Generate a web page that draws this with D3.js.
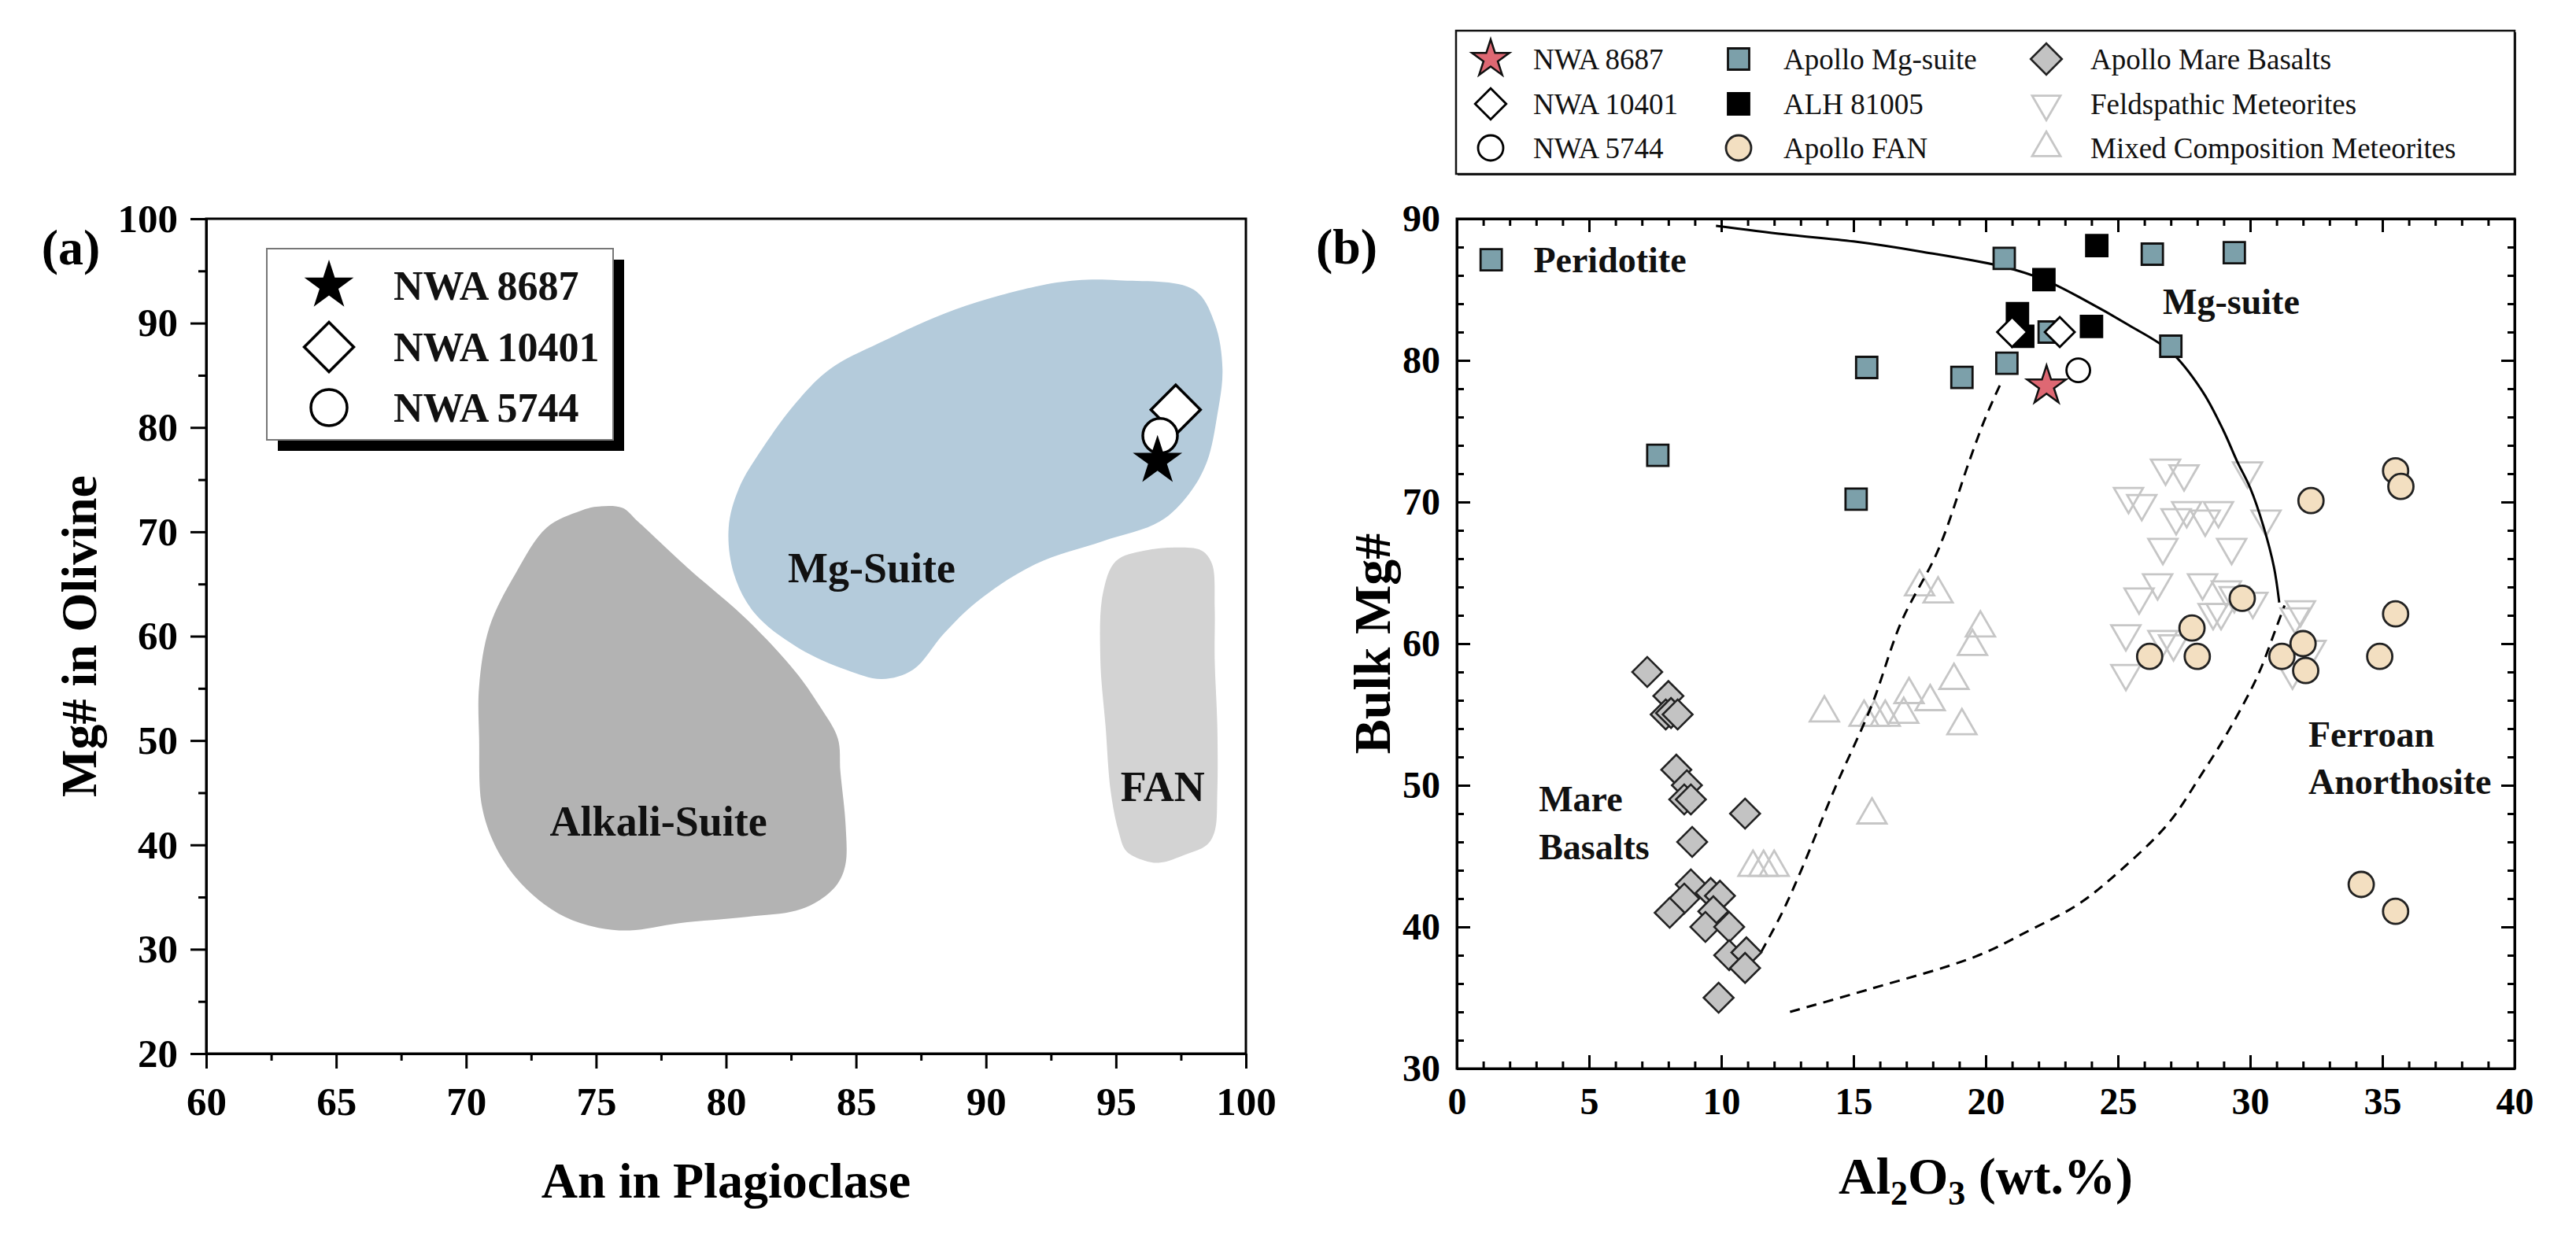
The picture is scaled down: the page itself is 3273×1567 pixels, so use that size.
<!DOCTYPE html>
<html><head><meta charset="utf-8">
<script src="https://cdn.jsdelivr.net/npm/d3@7"></script>
<style>
html,body{margin:0;padding:0;background:#fff;}
svg{display:block;font-family:"Liberation Serif","Times New Roman",serif;}
</style></head><body>
<svg id="c" width="3273" height="1567"></svg>
<script>
// ---------------- Panel (a) data ----------------
const xTicksA = [60,65,70,75,80,85,90,95,100];
const xMinorA = [62.5,67.5,72.5,77.5,82.5,87.5,92.5,97.5];
const yTicksA = [20,30,40,50,60,70,80,90,100];
const yMinorA = [25,35,45,55,65,75,85,95];

const regionMgSuite = [[95.1,94.1],[98.0,93.2],[98.8,90.0],[99.1,85.6],[98.9,81.2],[98.5,76.7],[97.8,73.6],[96.7,71.0],[94.5,69.1],[91.9,66.9],[89.7,63.4],[88.4,60.3],[87.2,56.8],[86.0,55.9],[84.6,56.8],[82.7,59.0],[81.1,62.2],[80.3,66.0],[80.1,70.4],[80.5,74.2],[81.4,78.0],[82.7,82.4],[84.0,85.6],[85.9,88.1],[88.8,91.3],[91.9,93.5],[93.5,94.1]];
const regionAlkali = [[74.4,72.0],[75.0,72.4],[76.0,72.3],[76.6,71.0],[78.5,66.6],[80.8,61.6],[82.7,56.5],[83.6,53.3],[84.3,50.2],[84.4,47.0],[84.6,41.9],[84.6,38.2],[84.3,36.3],[83.6,34.7],[82.7,33.7],[80.8,33.1],[78.2,32.5],[76.3,31.8],[75.0,32.1],[73.8,33.1],[72.8,34.7],[71.9,36.9],[71.1,40.0],[70.6,43.8],[70.5,50.2],[70.5,55.2],[70.9,60.9],[71.9,66.0],[73.1,70.4]];
const regionFAN = [[95.0,67.2],[96.1,68.2],[97.4,68.5],[98.3,68.2],[98.7,66.9],[98.8,62.8],[98.8,57.8],[98.9,51.4],[98.9,45.1],[98.8,41.3],[98.5,40.0],[97.7,39.1],[96.7,38.3],[96.1,38.5],[95.4,39.4],[95.1,41.3],[94.8,45.1],[94.6,51.4],[94.4,57.8],[94.5,64.1]];
const regionLabelsA = [["Mg-Suite",85.6,66.6],["Alkali-Suite",77.4,42.3],["FAN",96.8,45.6]];

const aNWA8687 = [[96.6,76.8]];
const aNWA10401 = [[97.3,81.7]];
const aNWA5744 = [[96.7,79.2]];
const legendA = ["NWA 8687","NWA 10401","NWA 5744"];

// ---------------- Panel (b) data ----------------
const xTicksB = [0,5,10,15,20,25,30,35,40];
const xMinorB = d3.range(1,40).filter(v => v % 5 !== 0);
const yTicksB = [30,40,50,60,70,80,90];
const yMinorB = d3.range(32,90,2).filter(v => v % 10 !== 0);

const bMgSuite = [[1.3,87.1],[7.6,73.3],[15.1,70.2],[15.5,79.5],[19.1,78.8],[20.8,79.8],[20.7,87.2],[22.4,82.0],[26.3,87.5],[29.4,87.6],[27.0,81.0]];
const bALH = [[24.2,88.1],[22.2,85.7],[21.2,83.3],[21.4,81.7],[24.0,82.4]];
const bNWA10401 = [[21.0,82.0],[22.8,82.0]];
const bNWA5744 = [[23.5,79.3]];
const bNWA8687 = [[22.3,78.2]];
const bFAN = [[35.5,72.2],[35.7,71.1],[32.3,70.1],[29.7,63.2],[27.8,61.1],[26.2,59.1],[28.0,59.1],[31.2,59.1],[32.0,60.0],[32.1,58.1],[35.5,62.1],[34.9,59.1],[34.2,43.0],[35.5,41.1]];
const bMare = [[7.2,58.0],[8.0,56.3],[7.9,55.0],[8.1,55.1],[8.35,55.0],[8.3,51.1],[8.7,50.0],[8.6,49.0],[8.85,49.0],[10.9,48.0],[8.9,46.0],[8.85,43.0],[8.6,42.0],[8.05,41.0],[9.6,42.4],[9.95,42.2],[9.7,41.1],[9.4,40.0],[10.3,40.0],[10.3,38.0],[10.95,38.2],[10.9,37.1],[9.9,35.0]];
const bMixed = [[17.5,64.0],[18.2,63.5],[19.8,61.1],[19.5,59.8],[18.8,57.4],[17.1,56.4],[17.9,55.9],[13.9,55.1],[15.4,54.8],[15.8,54.8],[16.2,54.8],[16.9,55.0],[19.1,54.2],[15.7,47.9],[11.2,44.2],[11.6,44.2],[12.0,44.2]];
const bFeld = [[26.8,72.4],[27.5,72.0],[29.9,72.2],[25.4,70.4],[25.9,69.9],[27.6,69.4],[27.2,68.9],[28.8,69.4],[28.3,68.8],[30.6,68.8],[26.7,66.8],[29.3,66.8],[26.5,64.3],[28.2,64.3],[25.8,63.3],[29.1,63.8],[29.4,63.4],[30.1,63.0],[28.6,62.2],[28.9,62.2],[31.9,62.4],[31.7,61.9],[25.3,60.7],[26.7,60.3],[27.1,60.0],[25.3,57.9],[32.3,59.6],[31.6,58.0]];

const curveSolid = [[9.8,89.5],[12.4,88.9],[15.0,88.4],[17.5,87.7],[20.7,86.6],[22.2,85.7],[23.7,84.3],[25.4,82.5],[27.0,80.6],[28.2,77.8],[29.0,75.0],[29.5,72.9],[30.0,71.0],[30.5,68.3],[30.9,65.4],[31.1,62.9]];
const curveDashLeft = [[11.5,38.2],[12.3,41.0],[13.0,43.9],[14.3,49.8],[15.7,55.7],[16.8,61.5],[18.2,66.6],[19.4,73.0],[20.0,76.0],[20.6,78.5]];
const curveDashRight = [[12.6,34.0],[15.6,35.6],[19.6,37.9],[21.7,39.8],[23.5,41.6],[25.1,44.0],[26.9,47.3],[28.1,50.6],[29.2,53.9],[30.3,57.8],[31.0,61.2],[31.3,62.7]];

const labelsB = [["Peridotite",2.9,87.1],["Mg-suite",26.7,84.2],["Mare",3.1,49.05],["Basalts",3.1,45.65],["Ferroan",32.2,53.6],["Anorthosite",32.2,50.3]];
const legendB = [
  ["NWA 8687","star"],["NWA 10401","wdiamond"],["NWA 5744","wcircle"],
  ["Apollo Mg-suite","mgsq"],["ALH 81005","blksq"],["Apollo FAN","fan"],
  ["Apollo Mare Basalts","mare"],["Feldspathic Meteorites","feld"],["Mixed Composition Meteorites","mixed"]
];

// ---------------- drawing ----------------
const svg = d3.select("#c");
svg.append("rect").attr("width",3273).attr("height",1567).attr("fill","#fff");

function sym(type,size){ return d3.symbol().type(type).size(size)(); }
function styleAxis(g, fs){
  g.select(".domain").attr("stroke","#000").attr("stroke-width",3);
  g.selectAll(".tick line").attr("stroke","#000").attr("stroke-width",3);
  g.selectAll(".tick text").attr("fill","#000").attr("font-size",fs).attr("font-weight","bold")
    .attr("font-family",'"Liberation Serif","Times New Roman",serif');
}

// ===== Panel A =====
const xA = d3.scaleLinear().domain([60,100]).range([262,1583]);
const yA = d3.scaleLinear().domain([20,100]).range([1339,278]);
const gA = svg.append("g");
const blob = d3.line().x(d=>xA(d[0])).y(d=>yA(d[1])).curve(d3.curveCatmullRomClosed.alpha(0.5));
gA.append("path").attr("d",blob(regionMgSuite)).attr("fill","#b4cbdb");
gA.append("path").attr("d",blob(regionAlkali)).attr("fill","#b3b3b3");
gA.append("path").attr("d",blob(regionFAN)).attr("fill","#d3d3d3");
gA.selectAll("text.rl").data(regionLabelsA).join("text").attr("class","rl")
  .attr("x",d=>xA(d[1])).attr("y",d=>yA(d[2])).attr("dy","0.35em")
  .attr("text-anchor","middle").attr("font-size",54).attr("font-weight","bold").attr("fill","#111").text(d=>d[0]);

// frame
gA.append("rect").attr("x",xA(60)).attr("y",yA(100)).attr("width",xA(100)-xA(60)).attr("height",yA(20)-yA(100))
  .attr("fill","none").attr("stroke","#000").attr("stroke-width",3);
// axes
let ax = gA.append("g").attr("transform",`translate(0,${yA(20)})`)
  .call(d3.axisBottom(xA).tickValues(xTicksA).tickSize(19).tickSizeOuter(0).tickPadding(23).tickFormat(d3.format("d")));
styleAxis(ax,51);
ax = gA.append("g").attr("transform",`translate(0,${yA(20)})`)
  .call(d3.axisBottom(xA).tickValues(xMinorA).tickSize(9).tickSizeOuter(0).tickFormat(""));
styleAxis(ax,51);
ax = gA.append("g").attr("transform",`translate(${xA(60)},0)`)
  .call(d3.axisLeft(yA).tickValues(yTicksA).tickSize(20).tickSizeOuter(0).tickPadding(16).tickFormat(d3.format("d")));
styleAxis(ax,51);
ax = gA.append("g").attr("transform",`translate(${xA(60)},0)`)
  .call(d3.axisLeft(yA).tickValues(yMinorA).tickSize(10).tickSizeOuter(0).tickFormat(""));
styleAxis(ax,51);

// markers A
const starA = sym(d3.symbolStar, 1222), diaA = sym(d3.symbolSquare, 1980);
gA.selectAll("path.d10401").data(aNWA10401).join("path").attr("class","d10401").attr("d",diaA)
  .attr("transform",d=>`translate(${xA(d[0])},${yA(d[1])}) rotate(45)`).attr("fill","#fff").attr("stroke","#000").attr("stroke-width",3.5);
gA.selectAll("circle.c5744").data(aNWA5744).join("circle").attr("class","c5744")
  .attr("cx",d=>xA(d[0])).attr("cy",d=>yA(d[1])).attr("r",22).attr("fill","#fff").attr("stroke","#000").attr("stroke-width",3.5);
gA.selectAll("path.s8687").data(aNWA8687).join("path").attr("class","s8687").attr("d",starA)
  .attr("transform",d=>`translate(${xA(d[0])},${yA(d[1])})`).attr("fill","#000");

// legend A
const lgA = gA.append("g");
lgA.append("rect").attr("x",353).attr("y",330).attr("width",440).attr("height",243).attr("fill","#000");
lgA.append("rect").attr("x",339).attr("y",316).attr("width",440).attr("height",243).attr("fill","#fff").attr("stroke","#777").attr("stroke-width",2);
const lgRowsA = [363,441,518];
lgA.append("path").attr("d",starA).attr("transform",`translate(418,${lgRowsA[0]})`).attr("fill","#000");
lgA.append("path").attr("d",diaA).attr("transform",`translate(418,${lgRowsA[1]}) rotate(45)`).attr("fill","#fff").attr("stroke","#000").attr("stroke-width",3.5);
lgA.append("circle").attr("cx",418).attr("cy",lgRowsA[2]).attr("r",23).attr("fill","#fff").attr("stroke","#000").attr("stroke-width",3.5);
lgA.selectAll("text").data(legendA).join("text").attr("x",500).attr("y",(d,i)=>lgRowsA[i]).attr("dy","0.35em")
  .attr("font-size",52).attr("font-weight","bold").attr("fill","#111").text(d=>d);

// titles A
svg.append("text").attr("x",(xA(60)+xA(100))/2).attr("y",1500).attr("dy","0.35em").attr("text-anchor","middle")
  .attr("font-size",64).attr("font-weight","bold").text("An in Plagioclase");
svg.append("text").attr("transform",`translate(100,${(yA(20)+yA(100))/2}) rotate(-90)`).attr("dy","0.35em").attr("text-anchor","middle")
  .attr("font-size",64).attr("font-weight","bold").text("Mg# in Olivine");
svg.append("text").attr("x",90).attr("y",314).attr("dy","0.35em").attr("text-anchor","middle")
  .attr("font-size",64).attr("font-weight","bold").text("(a)");

// ===== Panel B =====
const xB = d3.scaleLinear().domain([0,40]).range([1851,3195]);
const yB = d3.scaleLinear().domain([30,90]).range([1358,278]);
const gB = svg.append("g");

// triangles
const triB = sym(d3.symbolTriangle, 593);
gB.selectAll("path.mixed").data(bMixed).join("path").attr("class","mixed").attr("d",triB)
  .attr("transform",d=>`translate(${xB(d[0])},${yB(d[1])})`).attr("fill","none").attr("stroke","#c6c6c6").attr("stroke-width",2.8);
gB.selectAll("path.feld").data(bFeld).join("path").attr("class","feld").attr("d",triB)
  .attr("transform",d=>`translate(${xB(d[0])},${yB(d[1])}) rotate(180)`).attr("fill","none").attr("stroke","#c6c6c6").attr("stroke-width",2.8);

// curves
const ln = d3.line().x(d=>xB(d[0])).y(d=>yB(d[1])).curve(d3.curveCatmullRom.alpha(0.5));
gB.append("path").attr("d",ln(curveSolid)).attr("fill","none").attr("stroke","#000").attr("stroke-width",3);
gB.append("path").attr("d",ln(curveDashLeft)).attr("fill","none").attr("stroke","#000").attr("stroke-width",3).attr("stroke-dasharray","13,9");
gB.append("path").attr("d",ln(curveDashRight)).attr("fill","none").attr("stroke","#000").attr("stroke-width",3).attr("stroke-dasharray","13,9");

// FAN circles
gB.selectAll("circle.fan").data(bFAN).join("circle").attr("class","fan")
  .attr("cx",d=>xB(d[0])).attr("cy",d=>yB(d[1])).attr("r",16).attr("fill","#f3dfc1").attr("stroke","#222").attr("stroke-width",2.8);
// Mare diamonds
const diaB = sym(d3.symbolSquare, 722);
gB.selectAll("path.mare").data(bMare).join("path").attr("class","mare").attr("d",diaB)
  .attr("transform",d=>`translate(${xB(d[0])},${yB(d[1])}) rotate(45)`).attr("fill","#c3c3c3").attr("stroke","#222").attr("stroke-width",2.6);
// Mg-suite squares
const sqB = sym(d3.symbolSquare, 729);
gB.selectAll("path.mg").data(bMgSuite).join("path").attr("class","mg").attr("d",sqB)
  .attr("transform",d=>`translate(${xB(d[0])},${yB(d[1])})`).attr("fill","#7ca0aa").attr("stroke","#111").attr("stroke-width",2.8);
gB.selectAll("path.alh").data(bALH).join("path").attr("class","alh").attr("d",sqB)
  .attr("transform",d=>`translate(${xB(d[0])},${yB(d[1])})`).attr("fill","#000").attr("stroke","#000").attr("stroke-width",2.8);
// NWA samples
gB.selectAll("path.n10401").data(bNWA10401).join("path").attr("class","n10401").attr("d",diaB)
  .attr("transform",d=>`translate(${xB(d[0])},${yB(d[1])}) rotate(45)`).attr("fill","#fff").attr("stroke","#000").attr("stroke-width",2.8);
gB.selectAll("circle.n5744").data(bNWA5744).join("circle").attr("class","n5744")
  .attr("cx",d=>xB(d[0])).attr("cy",d=>yB(d[1])).attr("r",15).attr("fill","#fff").attr("stroke","#000").attr("stroke-width",2.8);
const starB = sym(d3.symbolStar, 760);
gB.selectAll("path.n8687").data(bNWA8687).join("path").attr("class","n8687").attr("d",starB)
  .attr("transform",d=>`translate(${xB(d[0])},${yB(d[1])})`).attr("fill","#de6873").attr("stroke","#111").attr("stroke-width",2.5);

// labels B
gB.selectAll("text.lb").data(labelsB).join("text").attr("class","lb")
  .attr("x",d=>xB(d[1])).attr("y",d=>yB(d[2])).attr("dy","0.35em")
  .attr("font-size",46).attr("font-weight","bold").attr("fill","#111").text(d=>d[0]);

// frame & axes B
gB.append("rect").attr("x",xB(0)).attr("y",yB(90)).attr("width",xB(40)-xB(0)).attr("height",yB(30)-yB(90))
  .attr("fill","none").attr("stroke","#000").attr("stroke-width",3);
const mk = (axisFn, scale, vals, size, pad, fmt, tr) => {
  const g = gB.append("g").attr("transform",tr)
    .call(axisFn(scale).tickValues(vals).tickSize(size).tickSizeOuter(0).tickPadding(pad).tickFormat(fmt));
  styleAxis(g,48);
  return g;
};
mk(d3.axisBottom,xB,xTicksB,-17,24,d3.format("d"),`translate(0,${yB(30)})`);
mk(d3.axisBottom,xB,xMinorB,-9,0,"",`translate(0,${yB(30)})`);
mk(d3.axisTop,xB,xTicksB,-17,0,"",`translate(0,${yB(90)})`);
mk(d3.axisTop,xB,xMinorB,-9,0,"",`translate(0,${yB(90)})`);
mk(d3.axisLeft,yB,yTicksB,-17,21,d3.format("d"),`translate(${xB(0)},0)`);
mk(d3.axisLeft,yB,yMinorB,-9,0,"",`translate(${xB(0)},0)`);
mk(d3.axisRight,yB,yTicksB,-17,0,"",`translate(${xB(40)},0)`);
mk(d3.axisRight,yB,yMinorB,-9,0,"",`translate(${xB(40)},0)`);

// titles B
const xt = svg.append("text").attr("x",(xB(0)+xB(40))/2).attr("y",1494).attr("dy","0.35em").attr("text-anchor","middle")
  .attr("font-size",66).attr("font-weight","bold");
xt.append("tspan").text("Al");
xt.append("tspan").attr("font-size",44).attr("dy",14).text("2");
xt.append("tspan").attr("dy",-14).text("O");
xt.append("tspan").attr("font-size",44).attr("dy",14).text("3");
xt.append("tspan").attr("dy",-14).text(" (wt.%)");
svg.append("text").attr("transform",`translate(1743,${(yB(30)+yB(90))/2}) rotate(-90)`).attr("dy","0.35em").attr("text-anchor","middle")
  .attr("font-size",66).attr("font-weight","bold").text("Bulk Mg#");
svg.append("text").attr("x",1711).attr("y",313).attr("dy","0.35em").attr("text-anchor","middle")
  .attr("font-size",64).attr("font-weight","bold").text("(b)");

// legend B
const lgB = svg.append("g");
lgB.append("rect").attr("x",1852).attr("y",41).attr("width",1345).attr("height",182).attr("fill","#222");
lgB.append("rect").attr("x",1850).attr("y",39).attr("width",1345).attr("height",182).attr("fill","#fff").attr("stroke","#111").attr("stroke-width",2.5);
const colSym = [1894,2209,2600], colTxt = [1948,2266,2656], rowY = [75,132,188];
const lsym = {
  star:   g=>g.append("path").attr("d",sym(d3.symbolStar,700)).attr("fill","#de6873").attr("stroke","#111").attr("stroke-width",2.5),
  wdiamond:g=>g.append("path").attr("d",sym(d3.symbolSquare,784)).attr("transform","rotate(45)").attr("fill","#fff").attr("stroke","#000").attr("stroke-width",2.8),
  wcircle:g=>g.append("circle").attr("r",16).attr("fill","#fff").attr("stroke","#000").attr("stroke-width",2.8),
  mgsq:   g=>g.append("path").attr("d",sym(d3.symbolSquare,729)).attr("fill","#7ca0aa").attr("stroke","#111").attr("stroke-width",2.8),
  blksq:  g=>g.append("path").attr("d",sym(d3.symbolSquare,729)).attr("fill","#000").attr("stroke","#000").attr("stroke-width",2.8),
  fan:    g=>g.append("circle").attr("r",16).attr("fill","#f3dfc1").attr("stroke","#222").attr("stroke-width",2.8),
  mare:   g=>g.append("path").attr("d",sym(d3.symbolSquare,784)).attr("transform","rotate(45)").attr("fill","#c3c3c3").attr("stroke","#222").attr("stroke-width",2.6),
  feld:   g=>g.append("path").attr("d",sym(d3.symbolTriangle,560)).attr("transform","rotate(180)").attr("fill","none").attr("stroke","#c6c6c6").attr("stroke-width",2.8),
  mixed:  g=>g.append("path").attr("d",sym(d3.symbolTriangle,560)).attr("fill","none").attr("stroke","#c6c6c6").attr("stroke-width",2.8)
};
legendB.forEach((d,i)=>{
  const col = Math.floor(i/3), row = i%3;
  const g = lgB.append("g").attr("transform",`translate(${colSym[col]},${rowY[row]})`);
  lsym[d[1]](g);
  lgB.append("text").attr("x",colTxt[col]).attr("y",rowY[row]).attr("dy","0.35em")
    .attr("font-size",37).attr("fill","#111").text(d[0]);
});
</script>
</body></html>
